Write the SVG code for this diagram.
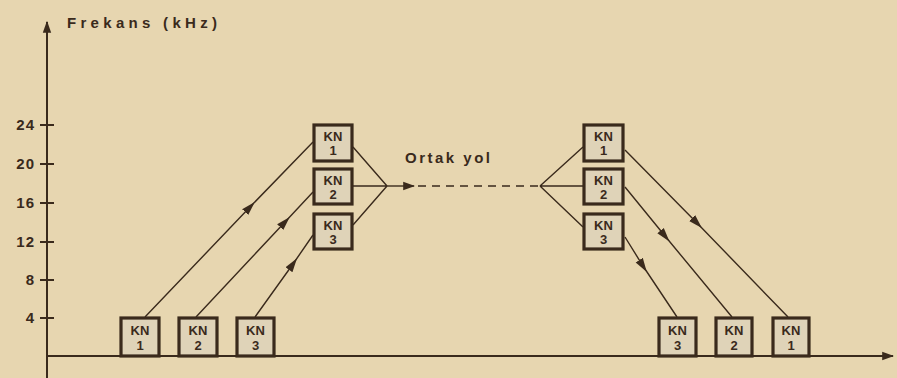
<svg xmlns="http://www.w3.org/2000/svg" width="897" height="378" viewBox="0 0 897 378">
<defs>
<marker id="ah" viewBox="0 0 10 10" refX="5" refY="5" markerWidth="14" markerHeight="14" markerUnits="userSpaceOnUse" orient="auto">
<path d="M0,2 L10,5 L0,8 z" fill="#3a2a1c"/>
</marker>
<marker id="axh" viewBox="0 0 10 10" refX="9" refY="5" markerWidth="12" markerHeight="12" markerUnits="userSpaceOnUse" orient="auto">
<path d="M0,1.5 L10,5 L0,8.5 z" fill="#3a2a1c"/>
</marker>
</defs>
<style>
.bg{fill:#e7d6b0}
.ax{stroke:#3a2a1c;stroke-width:2;fill:none}
.ln{stroke:#3a2a1c;stroke-width:1.4;fill:none}
.box{fill:#dfd3b8;stroke:#3a2a1c;stroke-width:3.2}
.kn{font-family:"Liberation Sans",Arial,sans-serif;font-size:13px;font-weight:bold;fill:#3a2a1c;text-anchor:middle}
.tk{font-family:"Liberation Sans",Arial,sans-serif;font-size:15px;font-weight:bold;fill:#3a2a1c;text-anchor:end;letter-spacing:1px}
.lbl{font-family:"Liberation Sans",Arial,sans-serif;font-size:15px;font-weight:bold;fill:#3a2a1c}
</style>
<rect class="bg" x="0" y="0" width="897" height="378"/>
<g id="axes">
<path class="ax" d="M47,378 L47,22" marker-end="url(#axh)"/>
<path class="ax" d="M47,356 L893,356" marker-end="url(#axh)"/>
<g class="ax">
<line x1="40" y1="125" x2="54" y2="125"/>
<line x1="40" y1="164" x2="54" y2="164"/>
<line x1="40" y1="203" x2="54" y2="203"/>
<line x1="40" y1="242" x2="54" y2="242"/>
<line x1="40" y1="280" x2="54" y2="280"/>
<line x1="40" y1="318" x2="54" y2="318"/>
</g>
<text class="tk" x="35" y="130">24</text>
<text class="tk" x="35" y="169">20</text>
<text class="tk" x="35" y="208">16</text>
<text class="tk" x="35" y="247">12</text>
<text class="tk" x="35" y="285">8</text>
<text class="tk" x="35" y="323">4</text>
<text class="lbl" x="67" y="28" letter-spacing="4.3">Frekans (kHz)</text>
</g>
<g id="connectors">
<path class="ln" d="M145,317 L250,207 L313,142" marker-mid="url(#ah)"/>
<path class="ln" d="M196,317 L285,222 L313,192" marker-mid="url(#ah)"/>
<path class="ln" d="M255,317 L293,264 L313,235" marker-mid="url(#ah)"/>
<path class="ln" d="M353,147 L387,186 M353,186 L387,186 M353,225 L387,186"/>
<path class="ln" d="M387,186 L414,186" marker-end="url(#axh)"/>
<path class="ln" d="M418,186 L540,186" stroke-dasharray="8,6"/>
<path class="ln" d="M540,186 L583,147 M540,186 L583,186 M540,186 L583,227"/>
<path class="ln" d="M625,150 L697,223 L788,317" marker-mid="url(#ah)"/>
<path class="ln" d="M625,187 L665,236 L732,317" marker-mid="url(#ah)"/>
<path class="ln" d="M625,237 L643,266 L677,317" marker-mid="url(#ah)"/>
<text class="lbl" x="405" y="163" letter-spacing="2.5">Ortak yol</text>
</g>
<g id="l1"><rect class="box" x="121" y="318" width="38" height="38"/><text class="kn" x="140" y="335">KN</text><text class="kn" x="140" y="350">1</text></g>
<g id="l2"><rect class="box" x="179" y="318" width="38" height="38"/><text class="kn" x="198" y="335">KN</text><text class="kn" x="198" y="350">2</text></g>
<g id="l3"><rect class="box" x="237" y="318" width="37" height="38"/><text class="kn" x="255.5" y="335">KN</text><text class="kn" x="255.5" y="350">3</text></g>
<g id="m1"><rect class="box" x="314" y="125" width="38" height="36"/><text class="kn" x="333" y="141">KN</text><text class="kn" x="333" y="155">1</text></g>
<g id="m2"><rect class="box" x="314" y="169" width="38" height="35"/><text class="kn" x="333" y="185">KN</text><text class="kn" x="333" y="199">2</text></g>
<g id="m3"><rect class="box" x="314" y="214" width="38" height="35"/><text class="kn" x="333" y="230">KN</text><text class="kn" x="333" y="244">3</text></g>
<g id="n1"><rect class="box" x="584" y="125" width="39" height="36"/><text class="kn" x="603.5" y="141">KN</text><text class="kn" x="603.5" y="155">1</text></g>
<g id="n2"><rect class="box" x="584" y="169" width="39" height="35"/><text class="kn" x="603.5" y="185">KN</text><text class="kn" x="603.5" y="199">2</text></g>
<g id="n3"><rect class="box" x="584" y="214" width="39" height="35"/><text class="kn" x="603.5" y="230">KN</text><text class="kn" x="603.5" y="244">3</text></g>
<g id="r3"><rect class="box" x="659" y="318" width="37" height="38"/><text class="kn" x="677.5" y="335">KN</text><text class="kn" x="677.5" y="350">3</text></g>
<g id="r2"><rect class="box" x="716" y="318" width="36" height="38"/><text class="kn" x="734" y="335">KN</text><text class="kn" x="734" y="350">2</text></g>
<g id="r1"><rect class="box" x="773" y="318" width="36" height="38"/><text class="kn" x="791" y="335">KN</text><text class="kn" x="791" y="350">1</text></g>
</svg>
